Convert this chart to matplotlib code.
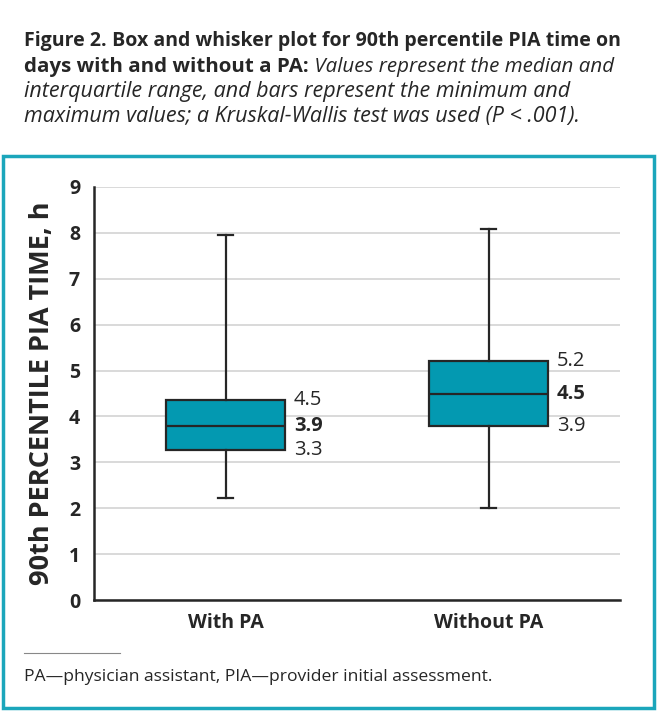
import matplotlib.pyplot as plt
from matplotlib.patches import Rectangle
from matplotlib.lines import Line2D

plt.rcParams['font.family'] = ['Open Sans', 'DejaVu Sans']

groups = ['With PA', 'Without PA']
mins = [2.22, 2.0]
q1s = [3.27, 3.79]
medians = [3.79, 4.49]
q3s = [4.36, 5.21]
maxs = [7.95, 8.08]
# printed labels next to the boxes (q3, median, q1)
lab_q3 = ['4.5', '5.2']
lab_med = ['3.9', '4.5']
lab_q1 = ['3.3', '3.9']

teal = '#0399b1'
border = '#1ba6bb'
ink = '#262626'

fig = plt.figure(figsize=(6.57, 7.11), dpi=100)

# caption with mixed styles
def seg_line(y, parts, x0=24 / 657, size=15.5):
    r = fig.canvas.get_renderer()
    x = x0
    for txt, kw in parts:
        t = fig.text(x, y, txt, fontsize=size, color=ink, va='baseline', **kw)
        bb = t.get_window_extent(renderer=r)
        x += bb.width / fig.bbox.width

B = dict(fontweight='bold')
I = dict(fontstyle='italic')
seg_line(1 - 46 / 711, [('Figure 2.', B), (' Box and whisker plot for 90th percentile PIA time on', B)], size=14.0)
seg_line(1 - 72 / 711, [('days with and without a PA:', B), (' Values represent the median and', I)], size=14.75)
seg_line(1 - 97 / 711, [('interquartile range, and bars represent the minimum and', I)])
seg_line(1 - 122 / 711, [('maximum values; a Kruskal-Wallis test was used (P < .001).', I)])

# teal frame
fig.patches.append(Rectangle((3 / 657, 3 / 711), 651 / 657, 552 / 711,
                             transform=fig.transFigure, fill=False, edgecolor=border, linewidth=2.5))

ax = fig.add_axes([94 / 657, 1 - 600 / 711, 526 / 657, 413 / 711])
stats = []
for i in range(len(groups)):
    stats.append(dict(whislo=mins[i], q1=q1s[i], med=medians[i], q3=q3s[i], whishi=maxs[i]))
lw = 1.6
ax.bxp(stats, positions=[0, 1], widths=0.45, showfliers=False, patch_artist=True,
       capwidths=0.06,
       boxprops=dict(facecolor=teal, edgecolor=ink, linewidth=lw),
       medianprops=dict(color=ink, linewidth=lw),
       whiskerprops=dict(color=ink, linewidth=lw),
       capprops=dict(color=ink, linewidth=lw), zorder=3)

for i in range(len(groups)):
    xr = i + 0.225 + 0.035
    ax.text(xr, q3s[i], lab_q3[i], fontsize=14.5, color=ink, va='center', ha='left')
    ax.text(xr, medians[i], lab_med[i], fontsize=14.5, color=ink, va='center', ha='left', fontweight='bold')
    ax.text(xr, q1s[i], lab_q1[i], fontsize=14.5, color=ink, va='center', ha='left')

ax.set_xlim(-0.5, 1.5)
ax.set_ylim(0, 9)
ax.set_yticks(range(10))
ax.set_xticks([0, 1])
ax.set_xticklabels(groups, fontsize=14, fontweight='bold', color=ink)
ax.tick_params(axis='y', labelsize=14, colors=ink, length=0, pad=10)
ax.tick_params(axis='x', length=0, pad=9)
for lab in ax.get_yticklabels():
    lab.set_fontweight('bold')
ax.grid(axis='y', color='#d3d3d3', linewidth=1.2, zorder=0)
ax.set_axisbelow(True)
for s in ['top', 'right']:
    ax.spines[s].set_visible(False)
for s in ['left', 'bottom']:
    ax.spines[s].set_linewidth(1.8)
    ax.spines[s].set_color(ink)
ax.set_ylabel('90th PERCENTILE PIA TIME, h', fontsize=19.5, fontweight='bold', color=ink, labelpad=10)

# footnote
fig.add_artist(Line2D([24 / 657, 120 / 657], [1 - 653 / 711, 1 - 653 / 711],
                      color='#888888', linewidth=0.8))
fig.text(24 / 657, 1 - 681 / 711, 'PA\u2014physician assistant, PIA\u2014provider initial assessment.',
         fontsize=12.6, color=ink, va='baseline')

fig.savefig('out.png', dpi=100)
